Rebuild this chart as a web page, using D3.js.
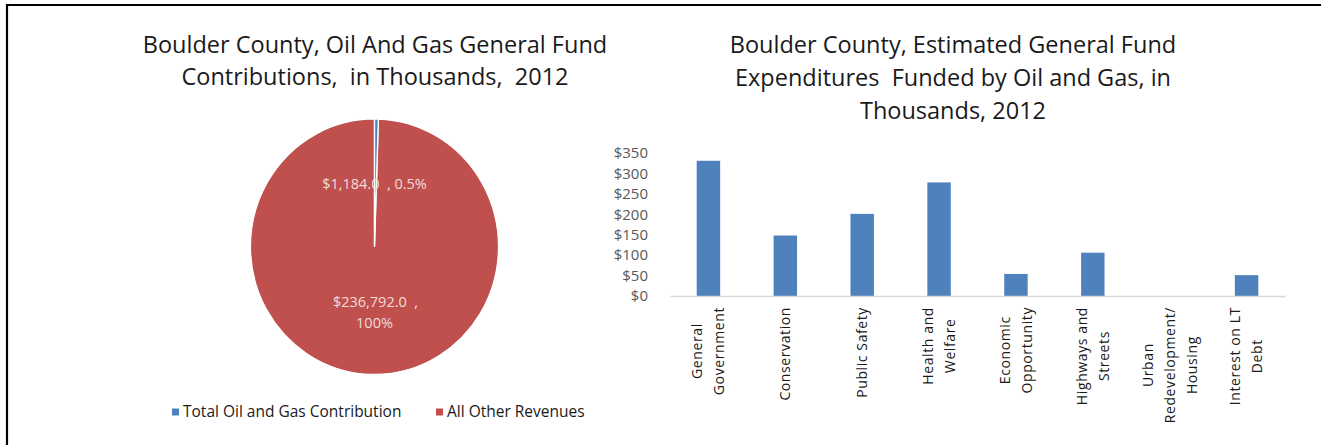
<!DOCTYPE html>
<html>
<head>
<meta charset="utf-8">
<script src="https://cdn.jsdelivr.net/npm/d3@7"></script>
<style>
  html, body { margin: 0; padding: 0; background: #fff; }
  svg { display: block; }
  text { font-family: "Open Sans", "Noto Sans", sans-serif; }
</style>
</head>
<body>
<svg id="chart" width="1321" height="445"></svg>
<script>
// Revenue split for the pie (thousands of dollars)
const pieCategories = ["Total Oil and Gas Contribution", "All Other Revenues"];
const pieValues = [1184.0, 236792.0];
const pieColors = ["#4F81BD", "#C0504D"];

// Expenditures funded by oil and gas (thousands of dollars)
const barCategories = [
  "General\nGovernment",
  "Conservation",
  "Public Safety",
  "Health and\nWelfare",
  "Economic\nOpportunity",
  "Highways and\nStreets",
  "Urban\nRedevelopment/\nHousing",
  "Interest on LT\nDebt"
];
const barValues = [331, 148, 201, 278, 54, 106, 0, 51];
const yTicks = [0, 50, 100, 150, 200, 250, 300, 350];

const svg = d3.select("#chart");

// outer frame
svg.append("path")
  .attr("d", "M7,445 V5 H1321")
  .attr("fill", "none")
  .attr("stroke", "#000")
  .attr("stroke-width", 2.2);

// ---------- Pie ----------
const pieTitle = ["Boulder County, Oil And Gas General Fund", "Contributions,  in Thousands,  2012"];
svg.append("g").selectAll("text").data(pieTitle).join("text")
  .attr("x", 375).attr("y", (d, i) => 53 + i * 32)
  .attr("text-anchor", "middle")
  .attr("font-size", 23.5)
  .attr("fill", "#1a1a1a")
  .attr("xml:space", "preserve")
  .text(d => d);

const cx = 374.5, cy = 246.7, r = 124;
const pie = d3.pie().sort(null).value(d => d);
const arcs = pie(pieValues);
const arc = d3.arc().innerRadius(0).outerRadius(r);

const pieG = svg.append("g").attr("transform", `translate(${cx},${cy}) scale(1,1.03)`);
// large slice first, labels next, then the thin slice over them
pieG.append("path").datum(arcs[1])
  .attr("d", arc).attr("fill", pieColors[1])
  .attr("stroke", "#fff").attr("stroke-width", 1.2);

const total = d3.sum(pieValues);
const money = d3.format("$,.1f");
const pct = v => (v / total < 0.01 ? d3.format(".1%") : d3.format(".0%"))(v / total);

const labelG = svg.append("g")
  .attr("fill", "#F2DCDB")
  .attr("font-size", 14.5)
  .attr("text-anchor", "middle");
// thin slice label
labelG.append("text")
  .attr("x", cx + 0).attr("y", cy - 58)
  .attr("xml:space", "preserve")
  .text(`${money(pieValues[0])}  , ${pct(pieValues[0])}`);
// large slice label
labelG.append("text")
  .attr("x", cx + 1).attr("y", cy + 60)
  .attr("xml:space", "preserve")
  .text(`${money(pieValues[1])}  ,`);
labelG.append("text")
  .attr("x", cx + 0).attr("y", cy + 81)
  .text(pct(pieValues[1]));

pieG.append("path").datum(arcs[0])
  .attr("d", arc).attr("fill", pieColors[0])
  .attr("stroke", "#fff").attr("stroke-width", 1.4);

// legend
const legendX = [172, 436];
const legG = svg.append("g").selectAll("g").data(pieCategories).join("g")
  .attr("transform", (d, i) => `translate(${legendX[i]},412)`);
legG.append("rect").attr("x", 0).attr("y", -3.5).attr("width", 7).attr("height", 7)
  .attr("fill", (d, i) => pieColors[i]);
legG.append("text").attr("x", 11).attr("dy", "0.35em")
  .attr("font-size", 15.5).attr("fill", "#1a1a1a")
  .text(d => d);

// ---------- Bars ----------
const barTitle = ["Boulder County, Estimated General Fund", "Expenditures  Funded by Oil and Gas, in", "Thousands, 2012"];
svg.append("g").selectAll("text").data(barTitle).join("text")
  .attr("x", 953).attr("y", (d, i) => 53 + i * 33)
  .attr("text-anchor", "middle")
  .attr("font-size", 23.5)
  .attr("fill", "#1a1a1a")
  .attr("xml:space", "preserve")
  .text(d => d);

const x = d3.scaleBand().domain(barCategories).range([670, 1285])
  .paddingInner(0.695).paddingOuter(0.3475);
const y = d3.scaleLinear().domain([0, 350]).range([296, 153]);

const yAxis = svg.append("g").attr("transform", "translate(648,0)")
  .call(d3.axisLeft(y).tickValues(yTicks).tickSize(0).tickPadding(0).tickFormat(d => "$" + d));
yAxis.select(".domain").remove();
yAxis.selectAll("text").attr("font-family", "Open Sans").attr("font-size", 15).attr("fill", "#595959");

svg.append("g").selectAll("rect").data(barValues).join("rect")
  .attr("x", (d, i) => x(barCategories[i]))
  .attr("width", x.bandwidth())
  .attr("y", d => y(d))
  .attr("height", d => y(0) - y(d))
  .attr("fill", "#4F81BD");

const xAxis = svg.append("g").attr("transform", `translate(0,${y(0)})`)
  .call(d3.axisBottom(x).tickSize(0).tickFormat(""));
xAxis.select(".domain").attr("stroke", "#D9D9D9").attr("stroke-width", 1.3);

// rotated, centred multi-line category labels hanging below the axis
const lineH = 22;
const catG = svg.append("g").selectAll("g").data(barCategories).join("g")
  .attr("transform", d => `translate(${x(d) + x.bandwidth() / 2},307) rotate(-90)`)
  .attr("font-family", "Liberation Sans, Arial, sans-serif")
  .attr("font-size", 14)
  .attr("letter-spacing", 0.6)
  .attr("fill", "#1a1a1a");
catG.each(function (d) {
  const g = d3.select(this);
  const lines = d.split("\n");
  const ts = g.selectAll("text").data(lines).join("text")
    .attr("y", (l, i) => (i - (lines.length - 1) / 2) * lineH)
    .attr("dy", "0.35em")
    .attr("text-anchor", "middle")
    .text(l => l);
  const w = d3.max(ts.nodes(), n => n.getComputedTextLength());
  ts.attr("x", -w / 2);
});
</script>
</body>
</html>
